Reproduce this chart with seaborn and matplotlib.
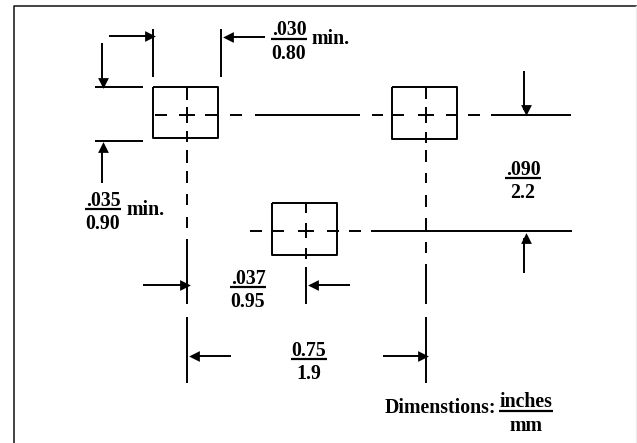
import matplotlib
matplotlib.use('Agg')
import matplotlib.pyplot as plt
import pandas as pd
import seaborn as sns

frame_x = [13.5, 13.5, 637]
frame_y = [443, 6, 6]
edge_x = [636, 636]
edge_y = [6, 443]

pads = [(153, 218, 87, 138), (392, 457, 87, 139), (272, 337, 203, 255)]

# (y, x start, x end)
h_lines = [
    (87, 95, 143), (141, 95, 143),
    (115, 155, 167), (115, 179, 195), (115, 205, 217), (115, 230, 242), (115, 255, 360),
    (115, 372, 383), (115, 393, 404), (115, 418, 434), (115, 446, 457), (115, 468, 480),
    (115, 491, 571),
    (231, 250, 262), (231, 273, 284), (231, 298, 314), (231, 327, 339), (231, 349, 361),
    (231, 371, 572),
    (36, 109, 150), (37, 228, 265),
    (285, 143, 185), (285, 313, 350),
    (356, 194, 231), (356, 383, 423),
]

# (x, y start, y end)
v_lines = [
    (153, 29, 77), (221, 29, 77),
    (102, 43, 83), (102, 147, 183),
    (524, 71, 110), (524, 238, 273),
    (187, 87, 100), (187, 107, 123), (187, 131, 142), (187, 150, 163), (187, 171, 183),
    (187, 194, 205), (187, 217, 228), (187, 239, 304), (187, 317, 383),
    (426, 87, 99), (426, 107, 123), (426, 132, 143), (426, 150, 162), (426, 173, 183),
    (426, 195, 207), (426, 218, 231), (426, 242, 253), (426, 264, 304), (426, 317, 383),
    (306, 203, 213), (306, 223, 238), (306, 248, 259), (306, 267, 304),
]

# arrow heads: marker centre points, by direction
heads_right = [(150, 36), (185, 285), (423, 356)]
heads_left = [(228, 37), (313, 285), (194, 356)]
heads_down = [(103, 83), (526, 110)]
heads_up = [(103, 147), (526, 238)]

# fractions: (top, bottom, x centre, y top, y bar, y bottom, bar x0, bar x1)
fractions = [
    ('.030', '0.80', 289, 30, 38.7, 54, 271, 307),
    ('.035', '0.90', 103, 201, 209, 224, 85, 121),
    ('.090', '2.2', 523, 170, 178, 193, 505, 541),
    ('.037', '0.95', 248, 279, 287, 302, 230, 266),
    ('0.75', '1.9', 309, 351, 359, 374, 291, 327),
    ('inches', 'mm', 526, 402, 411, 426, 499, 553),
]
side_labels = [('min.', 312, 39), ('min.', 127, 210), ('Dimenstions:', 385, 408)]

rows = []
seg = 0
for x0, x1, y0, y1 in pads:
    for px, py in [(x0, y0), (x1, y0), (x1, y1), (x0, y1), (x0, y0)]:
        rows.append((seg, px, py))
    seg += 1
for y, x0, x1 in h_lines:
    rows += [(seg, x0, y), (seg, x1, y)]
    seg += 1
for x, y0, y1 in v_lines:
    rows += [(seg, x, y0), (seg, x, y1)]
    seg += 1
lines = pd.DataFrame(rows, columns=['seg', 'x', 'y'])

bar_rows = []
for i, f in enumerate(fractions):
    bar_rows += [(i, f[6], f[4]), (i, f[7], f[4])]
bars = pd.DataFrame(bar_rows, columns=['seg', 'x', 'y'])

fig = plt.figure(figsize=(6.37, 4.43), dpi=100)
ax = fig.add_axes([0, 0, 1, 1])

sns.lineplot(data=lines, x='x', y='y', units='seg', estimator=None, sort=False,
             color='black', lw=1.4, ax=ax, solid_capstyle='butt', legend=False)
sns.lineplot(data=bars, x='x', y='y', units='seg', estimator=None, sort=False,
             color='black', lw=1.6, ax=ax, solid_capstyle='butt', legend=False)
sns.lineplot(x=frame_x, y=frame_y, sort=False, estimator=None, color='#111111', lw=1.1, ax=ax)
sns.lineplot(x=edge_x, y=edge_y, sort=False, estimator=None, color='#ececec', lw=1.0, ax=ax)

for pts, mk in [(heads_right, '>'), (heads_left, '<'), (heads_down, 'v'), (heads_up, '^')]:
    sns.scatterplot(x=[p[0] for p in pts], y=[p[1] for p in pts], marker=mk, s=60,
                    color='black', linewidth=0, ax=ax)

serif = {'family': 'Liberation Serif', 'weight': 'bold', 'size': 14.3, 'color': 'black'}
for top, bottom, xc, yt, yb, ybot, bx0, bx1 in fractions:
    ax.text(xc, yt, top, ha='center', va='center', **serif)
    ax.text(xc, ybot, bottom, ha='center', va='center', **serif)
for label, x, y in side_labels:
    ax.text(x, y, label, ha='left', va='center', **serif)

ax.set_xlim(0, 637)
ax.set_ylim(443, 0)
ax.axis('off')

fig.savefig('out.png', dpi=100)
